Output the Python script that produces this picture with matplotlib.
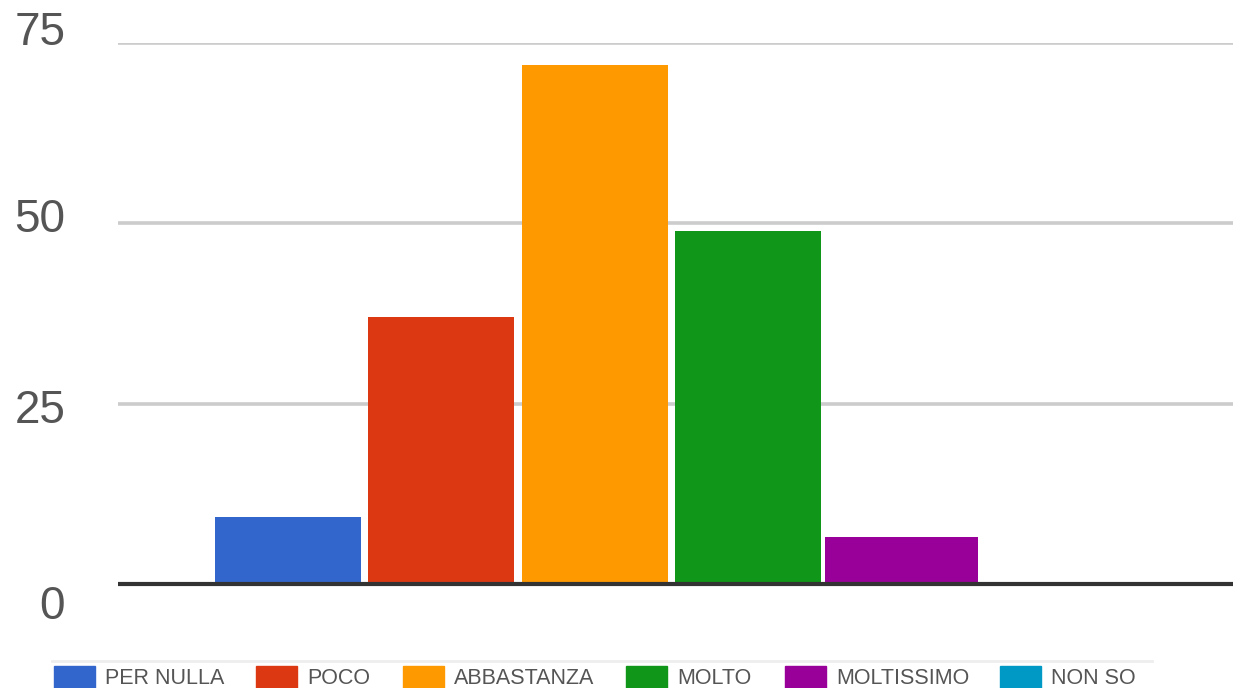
import numpy as np
import matplotlib
matplotlib.use("Agg")
import matplotlib.pyplot as plt
import matplotlib.transforms as mtransforms
from matplotlib.patches import Rectangle
from matplotlib.lines import Line2D

# answers (one question, six series)
labels = ["PER NULLA", "POCO", "ABBASTANZA", "MOLTO", "MOLTISSIMO", "NON SO"]
values = [9.3, 37, 72, 49, 6.5, 0]
colors = ["#3366cc", "#dc3912", "#ff9900", "#109618", "#990099", "#0099c6"]
yticks = [0, 25, 50, 75]

plt.rcParams['font.family'] = ['Liberation Sans', 'DejaVu Sans']

fig = plt.figure(figsize=(12.33, 6.88), dpi=100)
ax = fig.add_axes([118 / 1233, 104 / 688, 1 - 118 / 1233, (584 - 43) / 688])

x = np.arange(len(values))
widths = [0.95, 0.95, 0.95, 0.95, 1.0, 0.95]
ax.bar(x, values, width=widths, color=colors, zorder=3)

ax.set_xlim(-1.107, 6.16)
ax.set_ylim(0, 75)
ax.set_yticks(yticks)
ax.set_yticklabels([str(t) for t in yticks], fontsize=33, color="#555555")
ax.tick_params(axis="y", length=0, pad=38)
ax.set_xticks([])
ax.grid(axis="y", color="#cccccc", linewidth=2.6, zorder=1)
ax.set_axisbelow(True)
for s in ["top", "right", "left"]:
    ax.spines[s].set_visible(False)
ax.spines["bottom"].set_color("#333333")
ax.spines["bottom"].set_linewidth(3)
ax.spines["bottom"].set_zorder(4)
ax.spines["bottom"].set_capstyle("butt")

# tick labels in the source sit a bit off their gridlines
shifts = [-13, -2, 6, 11]
for lab, dy in zip(ax.get_yticklabels(), shifts):
    lab.set_transform(lab.get_transform() +
                      mtransforms.ScaledTranslation(0, dy / 72, fig.dpi_scale_trans))

# legend strip along the bottom edge
fig.add_artist(Line2D([52 / 1233, 1152 / 1233], [1 - 661 / 688] * 2,
                      color="#eeeeee", linewidth=2, transform=fig.transFigure))
patch_x = [54, 256, 403, 626, 785, 1000]
for px, lab, c in zip(patch_x, labels, colors):
    fig.add_artist(Rectangle((px / 1233, -0.01), 41 / 1233, (688 - 666) / 688 + 0.01,
                             transform=fig.transFigure, color=c))
    fig.text((px + 51) / 1233, 1 - 679 / 688, lab, fontsize=15.5, color="#555555",
             va="center", ha="left")

fig.savefig("out.png", dpi=100)
